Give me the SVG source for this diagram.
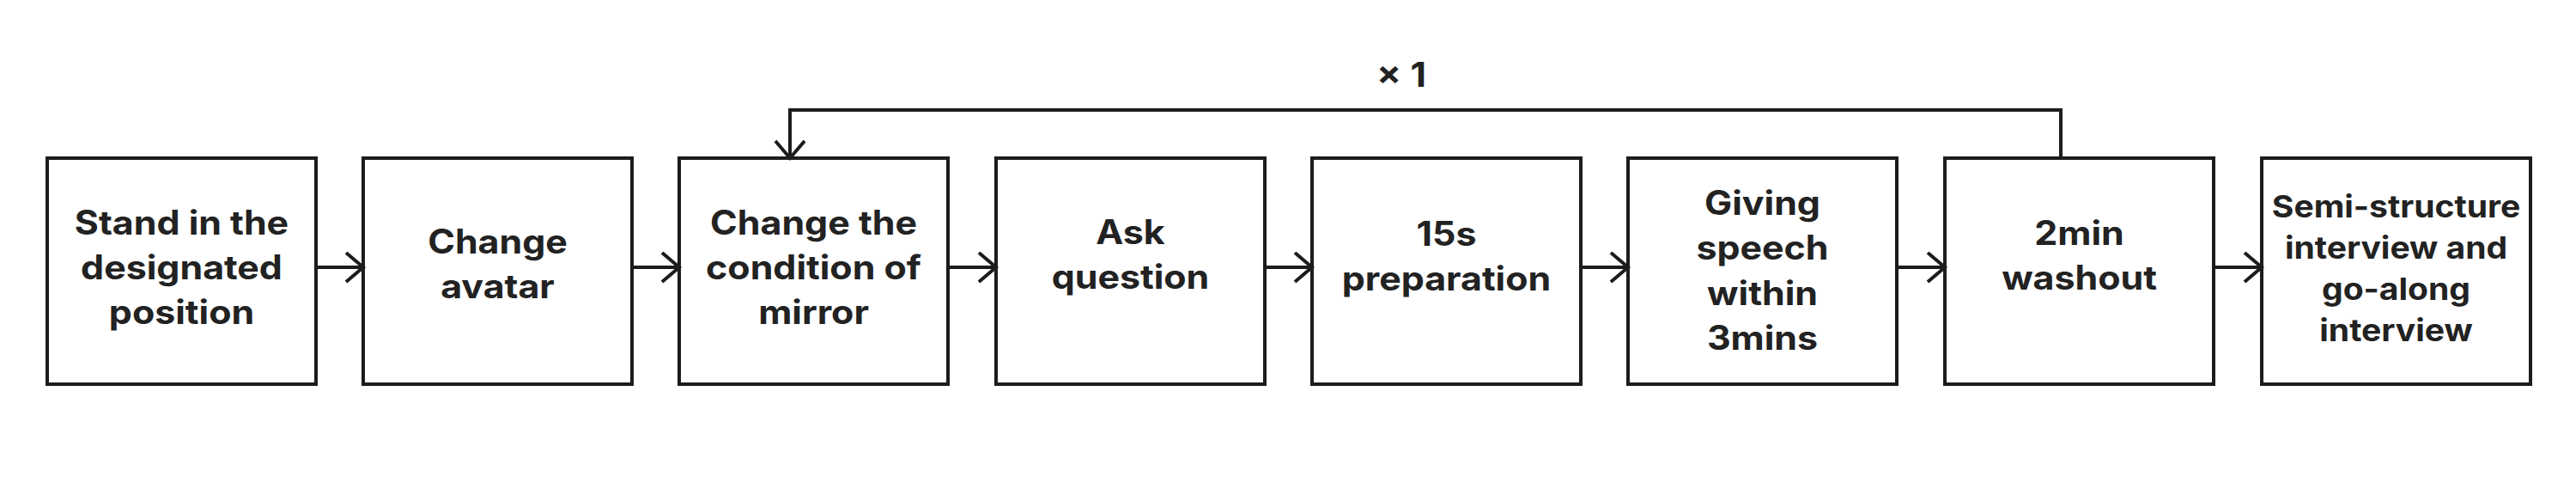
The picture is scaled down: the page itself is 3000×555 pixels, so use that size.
<svg xmlns="http://www.w3.org/2000/svg" width="3000" height="555" viewBox="0 0 3000 555">
<style>
.box{fill:#fff;stroke:#1c1c1c;stroke-width:4}
.lbl{font-family:Inter,"Liberation Sans",sans-serif;font-weight:700;font-size:39px;fill:#222;text-anchor:middle}
.sm{font-size:35.5px}
.con{fill:none;stroke:#1c1c1c;stroke-width:4}
</style>
<defs>
<marker id="arr" markerUnits="userSpaceOnUse" markerWidth="26" markerHeight="40" refX="22" refY="18" orient="auto" viewBox="0 0 26 40">
<path d="M2,1 L22,18 L2,35" fill="none" stroke="#1c1c1c" stroke-width="4"/>
</marker>
</defs>
<rect width="3000" height="555" fill="#fff"/>
<g id="n1"><rect class="box" x="55" y="184" width="313" height="263"/>
<text class="lbl" transform="translate(211.5 0) scale(1.1 1)" y="273"><tspan x="0">Stand in the</tspan><tspan x="0" dy="52">designated</tspan><tspan x="0" dy="52">position</tspan></text></g>
<g id="n2"><rect class="box" x="423" y="184" width="313" height="263"/>
<text class="lbl" transform="translate(579.5 0) scale(1.1 1)" y="295"><tspan x="0">Change</tspan><tspan x="0" dy="52">avatar</tspan></text></g>
<g id="n3"><rect class="box" x="791" y="184" width="313" height="263"/>
<text class="lbl" transform="translate(947.5 0) scale(1.1 1)" y="273"><tspan x="0">Change the</tspan><tspan x="0" dy="52">condition of</tspan><tspan x="0" dy="52">mirror</tspan></text></g>
<g id="n4"><rect class="box" x="1160" y="184" width="313" height="263"/>
<text class="lbl" transform="translate(1316.5 0) scale(1.1 1)" y="284"><tspan x="0">Ask</tspan><tspan x="0" dy="52">question</tspan></text></g>
<g id="n5"><rect class="box" x="1528" y="184" width="313" height="263"/>
<text class="lbl" transform="translate(1684.5 0) scale(1.1 1)" y="286"><tspan x="0">15s</tspan><tspan x="0" dy="52">preparation</tspan></text></g>
<g id="n6"><rect class="box" x="1896" y="184" width="313" height="263"/>
<text class="lbl" transform="translate(2052.5 0) scale(1.1 1)" y="250"><tspan x="0">Giving</tspan><tspan x="0" dy="52.5">speech</tspan><tspan x="0" dy="52.5">within</tspan><tspan x="0" dy="52.5">3mins</tspan></text></g>
<g id="n7"><rect class="box" x="2265" y="184" width="313" height="263"/>
<text class="lbl" transform="translate(2421.5 0) scale(1.1 1)" y="285"><tspan x="0">2min</tspan><tspan x="0" dy="52">washout</tspan></text></g>
<g id="n8"><rect class="box" x="2634" y="184" width="313" height="263"/>
<text class="lbl sm" transform="translate(2790.5 0) scale(1.1 1)" y="253"><tspan x="0">Semi-structure</tspan><tspan x="0" dy="48">interview and</tspan><tspan x="0" dy="48">go-along</tspan><tspan x="0" dy="48">interview</tspan></text></g>
<g id="connectors">
<line class="con" x1="368" y1="311" x2="423" y2="311" marker-end="url(#arr)"/>
<line class="con" x1="736" y1="311" x2="791" y2="311" marker-end="url(#arr)"/>
<line class="con" x1="1104" y1="311" x2="1160" y2="311" marker-end="url(#arr)"/>
<line class="con" x1="1473" y1="311" x2="1528" y2="311" marker-end="url(#arr)"/>
<line class="con" x1="1841" y1="311" x2="1896" y2="311" marker-end="url(#arr)"/>
<line class="con" x1="2209" y1="311" x2="2265" y2="311" marker-end="url(#arr)"/>
<line class="con" x1="2578" y1="311" x2="2634" y2="311" marker-end="url(#arr)"/>
<path class="con" d="M2400,184 V128 H920 V184" marker-end="url(#arr)"/>
<text class="lbl" transform="translate(1632 0) scale(1.1 1)" y="101">× 1</text>
</g>
</svg>
